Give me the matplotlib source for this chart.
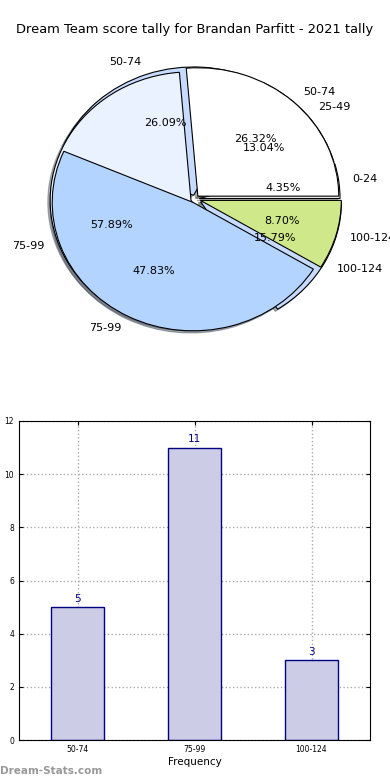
import matplotlib
matplotlib.use("Agg")
import matplotlib.pyplot as plt

# career tally (5 ranges) and 2021 tally (3 ranges)
all_ranges = ["0-24", "25-49", "50-74", "75-99", "100-124"]
all_counts = [1, 3, 6, 11, 2]
season_ranges = ["50-74", "75-99", "100-124"]
season_counts = [5, 11, 3]

fig = plt.figure(figsize=(3.9, 7.8), dpi=100)
fig.text(0.5, 1 - 30 / 780, "Dream Team score tally for Brandan Parfitt - 2021 tally",
         ha="center", va="center", fontsize=9.4)

### pie: two pies stacked on one another
ax1 = fig.add_axes([14 / 390, 1 - 364 / 780, 362 / 390, 330 / 780])
wp = {"edgecolor": "black", "linewidth": 0.8}
shadow = {"ox": -0.012, "oy": -0.012, "shade": 0.6}

wB, tB, aB = ax1.pie(season_counts, labels=season_ranges, autopct="%.2f%%",
                     colors=["white", "#ebf2ff", "#c6dbff"],
                     explode=[0.03, 0.03, 0.045], shadow=shadow,
                     wedgeprops=wp, textprops={"fontsize": 8})
wA, tA, aA = ax1.pie(all_counts, labels=all_ranges, autopct="%.2f%%",
                     colors=["white", "white", "#c6dbff", "#b3d4ff", "#cfe98a"],
                     explode=[0.03, 0.03, 0.03, 0.03, 0.04], shadow=shadow,
                     wedgeprops=wp, textprops={"fontsize": 8})
for w in wA[:3]:
    w.set_zorder(1)
for w in wB:
    w.set_zorder(2)
for w in wA[3:]:
    w.set_zorder(2.5)
for t in tA + aA + tB + aB:
    t.set_zorder(5)
ax1.set_aspect("auto")
ax1.set_xlim(-1.285, 1.285)
ax1.set_ylim(-1.285, 1.285)

### bar chart
ax2 = fig.add_axes([19 / 390, 40 / 780, 351 / 390, 319 / 780])
x = range(len(season_ranges))
ax2.bar(x, season_counts, width=0.45, color="#ccccE6", edgecolor="navy", linewidth=1, zorder=2)
for i, v in zip(x, season_counts):
    ax2.text(i, v + 0.12, str(v), ha="center", va="bottom", color="navy", fontsize=7.5)
ax2.set_xlim(-0.5, 2.5)
ax2.set_ylim(0, 12)
ax2.set_xticks(list(x))
ax2.set_xticklabels(season_ranges)
ax2.tick_params(labelsize=5.5, direction="in", top=True, right=True, length=3)
ax2.grid(True, linestyle=":", color="#aaaaaa", linewidth=1)
ax2.set_xlabel("Frequency", fontsize=7.5, labelpad=2)
ax2.set_ylabel("Score Tally", fontsize=7.5)
ax2.yaxis.set_label_coords(-0.062, 0.5)

fig.text(0.0, 1 - 771 / 780, "Dream-Stats.com", color="#999999", fontsize=7.5,
         fontweight="bold", va="center", ha="left")

fig.savefig("out.png", dpi=100)
